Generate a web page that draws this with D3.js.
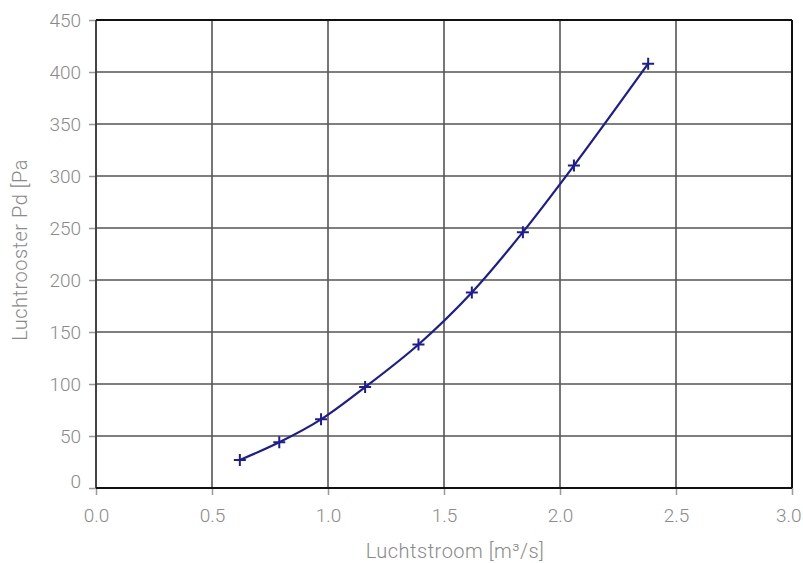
<!DOCTYPE html>
<html><head><meta charset="utf-8">
<script src="https://cdn.jsdelivr.net/npm/d3@7"></script>
<style>body{margin:0;background:#fff}svg{display:block}text{font-family:Roboto,"Noto Sans",sans-serif;font-weight:300}</style>
</head><body><svg id="c" width="803" height="563"></svg>
<script>
const flow = [0.62, 0.79, 0.97, 1.16, 1.39, 1.62, 1.84, 2.06, 2.38];
const pressure = [27, 44, 66, 97, 138, 188, 246, 310, 408];
const xTicks = [0, 0.5, 1.0, 1.5, 2.0, 2.5, 3.0];
const yTicks = [0, 50, 100, 150, 200, 250, 300, 350, 400, 450];
const xLabel = "Luchtstroom [m³/s]";
const yLabel = "Luchtrooster Pd [Pa";

const svg = d3.select("#c");
const m = {l:96, t:20, r:792, b:488};
const x = d3.scaleLinear().domain([0,3]).range([m.l, m.r]);
const y = d3.scaleLinear().domain([0,450]).range([m.b, m.t]);

// grid
svg.append("g").selectAll("line").data(xTicks.slice(1,-1)).join("line")
  .attr("x1",d=>x(d)).attr("x2",d=>x(d)).attr("y1",m.t).attr("y2",m.b)
  .attr("stroke","#555").attr("stroke-width",1.6);
svg.append("g").selectAll("line").data(yTicks.slice(1,-1)).join("line")
  .attr("y1",d=>y(d)).attr("y2",d=>y(d)).attr("x1",m.l).attr("x2",m.r)
  .attr("stroke","#555").attr("stroke-width",1.6);

// axes
const xa = svg.append("g").attr("transform",`translate(0,${m.b})`)
  .call(d3.axisBottom(x).tickValues(xTicks).tickFormat(d3.format(".1f")).tickSize(7).tickPadding(14));
const ya = svg.append("g").attr("transform",`translate(${m.l},0)`)
  .call(d3.axisLeft(y).tickValues(yTicks).tickSize(7).tickPadding(8));
[xa,ya].forEach(a=>{
  a.select(".domain").remove();
  a.selectAll(".tick line").attr("stroke","#999").attr("stroke-width",1.5);
  a.selectAll("text").attr("fill","#8a8a8a").style("font-size","19px");
});
ya.selectAll(".tick").filter(d=>d===0).select("text").attr("dy","-0.05em");
xa.selectAll(".tick").filter(d=>d===3).select("text").attr("text-anchor","end").attr("x",9);

// frame
svg.append("line").attr("x1",m.l).attr("x2",m.l).attr("y1",m.t).attr("y2",m.b).attr("stroke","#444").attr("stroke-width",2);
svg.append("line").attr("x1",m.l).attr("x2",m.r).attr("y1",m.t).attr("y2",m.t).attr("stroke","#111").attr("stroke-width",2);
svg.append("line").attr("x1",m.l).attr("x2",m.r).attr("y1",m.b).attr("y2",m.b).attr("stroke","#111").attr("stroke-width",2);
svg.append("line").attr("x1",m.r).attr("x2",m.r).attr("y1",m.t).attr("y2",m.b).attr("stroke","#111").attr("stroke-width",2);

// labels
svg.append("text").attr("x",455).attr("y",558).attr("text-anchor","middle")
  .attr("fill","#8a8a8a").style("font-size","20px").style("letter-spacing","0.5px").text(xLabel);
svg.append("text").attr("transform",`translate(27,250) rotate(-90)`).attr("text-anchor","middle")
  .attr("fill","#8a8a8a").style("font-size","20px").style("letter-spacing","0.5px").text(yLabel);

// curve
const pts = flow.map((f,i)=>[f,pressure[i]]);
svg.append("path").datum(pts)
  .attr("d", d3.line().x(d=>x(d[0])).y(d=>y(d[1])).curve(d3.curveCatmullRom))
  .attr("fill","none").attr("stroke","#1c1c94").attr("stroke-width",2.2);
svg.append("g").selectAll("path").data(pts).join("path")
  .attr("d", d=>`M${x(d[0])-6},${y(d[1])}H${x(d[0])+6}M${x(d[0])},${y(d[1])-6}V${y(d[1])+6}`)
  .attr("stroke","#1c1c94").attr("stroke-width",2);
</script></body></html>
